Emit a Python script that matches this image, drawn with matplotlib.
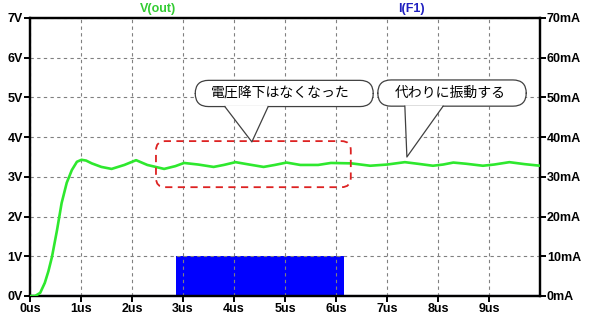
import matplotlib
matplotlib.use("Agg")
import matplotlib.pyplot as plt
from matplotlib.patches import FancyBboxPatch, Polygon

plt.rcParams["font.family"] = ["Liberation Sans", "Noto Sans CJK JP", "DejaVu Sans"]

# ── データ ───────────────────────────────────────
t_us = [0, 0.1, 0.2, 0.29, 0.36, 0.43, 0.53, 0.62, 0.72, 0.82,
        0.92, 1.01, 1.1, 1.21, 1.4, 1.6, 1.85, 2.08, 2.3, 2.63,
        2.85, 3.02, 3.3, 3.6, 3.8, 4.03, 4.3, 4.58, 4.8, 5.03,
        5.3, 5.65, 5.9, 6.3, 6.67, 7.0, 7.35, 7.6, 7.9, 8.1,
        8.3, 8.55, 8.88, 9.1, 9.4, 9.7, 10.0]
v_out = [0, 0, 0.08, 0.33, 0.62, 0.98, 1.66, 2.34, 2.85, 3.17,
         3.38, 3.43, 3.41, 3.34, 3.25, 3.2, 3.3, 3.42, 3.3, 3.2,
         3.27, 3.35, 3.31, 3.25, 3.3, 3.37, 3.31, 3.25, 3.3, 3.36,
         3.30, 3.30, 3.35, 3.34, 3.28, 3.31, 3.37, 3.33, 3.28, 3.31,
         3.36, 3.33, 3.28, 3.31, 3.37, 3.32, 3.28]

# I(F1): 2.87us〜6.16us の間 0〜10mA で高速スイッチング
i_t_us = [0.0, 2.87, 6.16, 10.0]
i_f1_ma = [0, 10, 0, 0]

x_ticks = [0, 1, 2, 3, 4, 5, 6, 7, 8, 9]
x_labels = [f"{v}us" for v in x_ticks]
v_ticks = [0, 1, 2, 3, 4, 5, 6, 7]
v_labels = [f"{v}V" for v in v_ticks]
i_ticks = [0, 10, 20, 30, 40, 50, 60, 70]
i_labels = [f"{v}mA" for v in i_ticks]

GREEN = "#2ee82e"
BLUE = "#0000ff"

W, H = 597, 328
fig = plt.figure(figsize=(W / 100, H / 100), dpi=100)
ax = fig.add_axes([30 / W, 32 / H, 510 / W, 278 / H])
ax2 = ax.twinx()

# ── 電流 ───────────────────────────────────────────────
ax2.fill_between(i_t_us, i_f1_ma, step="post", color=BLUE, lw=0, zorder=2)
ax2.plot(i_t_us, [0] * len(i_t_us), color="#1010a0", lw=2.2, zorder=3)
ax2.set_ylim(0, 70)

# ── 電圧 ───────────────────────────────────────────────
ax.plot(t_us, v_out, color=GREEN, lw=1.9, zorder=4)
ax.set_xlim(0, 10)
ax.set_ylim(0, 7)

ax.set_zorder(ax2.get_zorder() + 1)
ax.patch.set_visible(False)

ax.set_xticks(x_ticks, x_labels)
ax.set_yticks(v_ticks, v_labels)
ax2.set_yticks(i_ticks, i_labels)

for a in (ax, ax2):
    for s in a.spines.values():
        s.set_linewidth(1.6)
    a.tick_params(length=4, width=1.4, labelsize=9, pad=1)
    for lbl in a.get_xticklabels() + a.get_yticklabels():
        lbl.set_fontweight("bold")

ax.grid(True, color="#808080", lw=0.8, linestyle=(0, (3, 3)))

fig.text(158 / W, 1 - 9 / H, "V(out)", color="#33cc33", fontsize=9,
         fontweight="bold", ha="center", va="center")
fig.text(411 / W, 1 - 9 / H, "I(F1)", color="#2020c0", fontsize=9,
         fontweight="bold", ha="center", va="center")

# ── 吹き出し ───────────────────────────────────────────
ASPECT = 51.0 / 39.7


def callout(x0, x1, y0, y1, base, tip, text, tx):
    box = FancyBboxPatch((x0, y0), x1 - x0, y1 - y0,
                         boxstyle="round,pad=0,rounding_size=0.26",
                         mutation_aspect=ASPECT, fc="white", ec="#404040",
                         lw=0.9, zorder=6)
    ax.add_patch(box)
    tri = Polygon([(base[0], y0 + 0.02), (base[1], y0 + 0.02), tip],
                  closed=True, fc="white", ec="none", zorder=7)
    ax.add_patch(tri)
    ax.plot([base[0], tip[0], base[1]], [y0, tip[1], y0],
            color="#404040", lw=0.9, zorder=8)
    ax.text(tx, (y0 + y1) / 2, text, fontsize=10, ha="center", va="center",
            family=["Noto Sans CJK JP"], zorder=9)


callout(3.24, 6.73, 4.77, 5.43, (3.82, 4.67), (4.35, 3.88),
        "電圧降下はなくなった", 4.9)
callout(6.82, 9.73, 4.78, 5.44, (7.35, 8.1), (7.39, 3.5),
        "代わりに振動する", 8.24)

frame = FancyBboxPatch((2.47, 2.74), 6.29 - 2.47, 3.90 - 2.74,
                       boxstyle="round,pad=0,rounding_size=0.18",
                       mutation_aspect=ASPECT, fc="none", ec="#dd2222",
                       lw=1.3, linestyle=(0, (4, 3)), zorder=5)
ax.add_patch(frame)

plt.savefig("out.png", dpi=100)
plt.close()
